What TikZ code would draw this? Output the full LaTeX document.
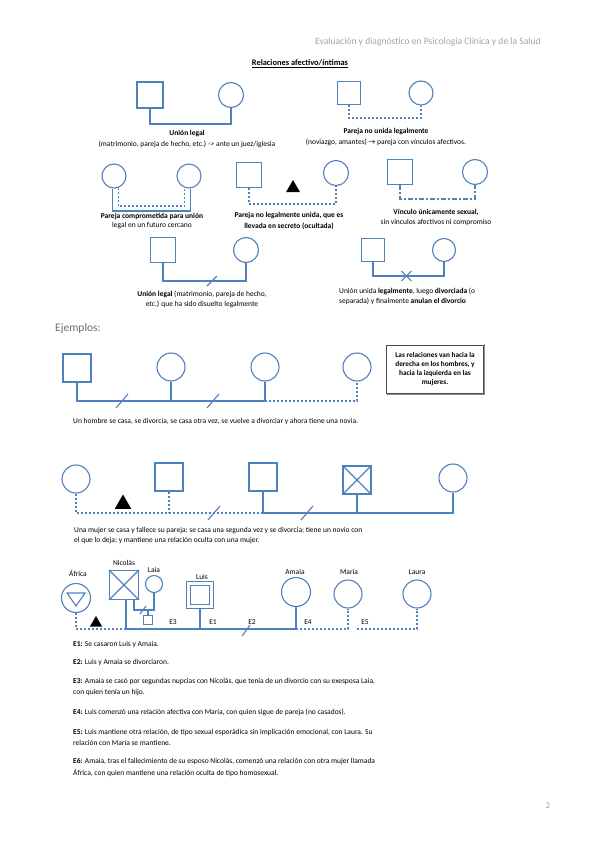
\documentclass[tikz,border=0pt]{standalone}
\usepackage{fontspec}
\setmainfont{Carlito}
\usetikzlibrary{shapes.geometric,calc}
\definecolor{relblue}{RGB}{79,129,189}
\definecolor{hdrgray}{RGB}{165,165,165}
\definecolor{ejgray}{RGB}{110,110,110}
\tikzset{
 rel/.style={draw=relblue, line width=1.1pt},
 reld/.style={rel, dash pattern=on 2pt off 2pt},
 reldd/.style={rel, dash pattern=on 5pt off 2pt on 2pt off 2pt},
 sq/.style={rectangle, draw=relblue, line width=1.1pt, inner sep=0pt, minimum size=#1},
 sq/.default=25pt,
 ci/.style={circle, draw=relblue, line width=1.1pt, inner sep=0pt, minimum size=#1},
 ci/.default=25pt,
 blacktri/.style={regular polygon, regular polygon sides=3, fill=black, inner sep=0pt, minimum size=#1},
 blacktri/.default=16pt,
 txt/.style={font=\fontsize{7.5}{9}\selectfont, inner sep=0pt},
 btxt/.style={font=\fontsize{7.5}{9}\selectfont\bfseries, inner sep=0pt},
 ltxt/.style={txt, anchor=west},
 lbtxt/.style={btxt, anchor=west},
 nm/.style={font=\fontsize{7.5}{9}\selectfont, inner sep=0pt},
}
\begin{document}
\begin{tikzpicture}[x=1pt,y=-1pt]
\useasboundingbox (0,0) rectangle (599,848);
\fill[white] (0,0) rectangle (599,848);

% header
\node[font=\fontsize{9.6}{11}\selectfont, text=hdrgray, anchor=east, inner sep=0pt] (hdr) at (541,42) {Evaluación y diagnóstico en Psicología Clínica y de la Salud};
\node[font=\fontsize{8.4}{10}\selectfont\bfseries, inner sep=0pt] (title) at (300,64) {\underline{Relaciones afectivo/íntimas}};

% ---- row 1 left: union legal
\node[sq=26pt] (s1) at (150,95) {};
\node[ci=25pt] (c1) at (231,95) {};
\coordinate (l1) at (0,124);
\draw[rel] (s1.south) |- (c1.south |- l1) -- (c1.south);
\node[btxt] (t1a) at (187,134) {Unión legal};
\node[txt] (t1b) at (187,144) {(matrimonio, pareja de hecho, etc.) -> ante un juez/iglesia};

% ---- row 1 right: pareja no unida
\node[sq=23pt] (s2) at (349,93) {};
\node[ci=24pt] (c2) at (421,93) {};
\coordinate (l2) at (0,118);
\draw[reld] (s2.south) |- (c2.south |- l2) -- (c2.south);
\node[btxt] (t2a) at (386,132) {Pareja no unida legalmente};
\node[txt] (t2b) at (386,142) {(noviazgo, amantes) → pareja con vínculos afectivos.};

% ---- row 2 left: comprometida
\node[ci=24pt] (c3) at (114,176) {};
\node[ci=24pt] (c4) at (189,176) {};
\coordinate (l3) at (0,211);
\coordinate (l3b) at (0,206);
\draw[rel] (c3.265) |- (c4.275 |- l3) -- (c4.275);
\draw[reld] (c3.290) |- (c4.250 |- l3b) -- (c4.250);
\node[btxt] (t3a) at (152,216) {Pareja comprometida para unión};
\node[txt] (t3b) at (152,226) {legal en un futuro cercano};

% ---- row 2 middle: oculta
\node[sq=25pt] (s5) at (249,175) {};
\node[blacktri=16pt] (tr1) at (293,188) {};
\node[ci=25pt] (c6) at (336,173) {};
\coordinate (l5) at (0,204);
\draw[reld] (s5.south) |- (c6.south |- l5) -- (c6.south);
\node[btxt] (t5a) at (289,216) {Pareja no legalmente unida, que es};
\node[btxt] (t5b) at (289,226) {llevada en secreto (ocultada)};

% ---- row 2 right: sexual
\node[sq=25pt] (s7) at (400,172) {};
\node[ci=25pt] (c8) at (475,172) {};
\coordinate (l7) at (0,199);
\draw[reldd] (s7.south) |- (c8.south |- l7) -- (c8.south);
\node[btxt] (t7a) at (436,212) {Vínculo únicamente sexual,};
\node[txt] (t7b) at (436,222) {sin vínculos afectivos ni compromiso};

% ---- row 3 left: disuelto
\node[sq=25pt] (s9) at (163,250) {};
\node[ci=25pt] (c10) at (246,250) {};
\coordinate (l9) at (0,281);
\draw[rel] (s9.south) |- (c10.south |- l9) -- (c10.south);
\coordinate (sl9) at ($(s9.south |- l9)!0.59!(c10.south |- l9)$);
\draw[rel] ($(sl9)+(-5,5)$) -- ($(sl9)+(5,-5)$);
\node[txt] (t9a) at (202,294) {\textbf{Unión legal} (matrimonio, pareja de hecho,};
\node[txt] (t9b) at (202,304) {etc.) que ha sido disuelto legalmente};

% ---- row 3 right: anulan
\node[sq=23pt] (s11) at (373,250) {};
\node[ci=23pt] (c12) at (444,250) {};
\coordinate (l11) at (0,276);
\draw[rel] (s11.south) |- (c12.south |- l11) -- (c12.south);
\coordinate (x11) at ($(s11.south |- l11)!0.47!(c12.south |- l11)$);
\draw[rel] ($(x11)+(-5,-5)$) -- ($(x11)+(5,5)$) ($(x11)+(-5,5)$) -- ($(x11)+(5,-5)$);
\node[ltxt] (t11a) at (339,291) {Unión unida \textbf{legalmente}, luego \textbf{divorciada} (o};
\node[ltxt] (t11b) at (339,301) {separada) y finalmente \textbf{anulan el divorcio}};

% ---- Ejemplos
\node[font=\fontsize{11.5}{13}\selectfont, text=ejgray, anchor=west, inner sep=0pt] (ej) at (55,328) {Ejemplos:};

% example 1
\node[sq=28pt] (e1s) at (77,368) {};
\node[ci=28pt] (e1c1) at (171,367) {};
\node[ci=28pt] (e1c2) at (265,367) {};
\node[ci=28pt] (e1c3) at (357,367) {};
\coordinate (le1) at (0,401);
\draw[rel] (e1s.south) |- (e1c2.south |- le1) -- (e1c2.south);
\draw[rel] (e1c1.south) -- (e1c1.south |- le1);
\draw[reld] (e1c2.south |- le1) -| (e1c3.south);
\draw[rel] (116,408) -- (128,394);
\draw[rel] (207,408) -- (219,394);
\node[draw=black!70, line width=0.6pt, fill=white, minimum width=97pt, minimum height=48pt, inner sep=0pt] (box) at (435,369) {};
\draw[black!45, line width=1.2pt] ([xshift=1pt,yshift=-1pt]box.south west) -- ([xshift=1pt,yshift=-1pt]box.south east) -- ([xshift=1pt,yshift=1pt]box.north east);
\node[font=\fontsize{7.3}{9.2}\selectfont\bfseries, align=center, inner sep=0pt] (boxt) at (box.center) {Las relaciones van hacia la\\derecha en los hombres, y\\hacia la izquierda en las\\mujeres.};
\node[ltxt] (cap1) at (73,421) {Un hombre se casa, se divorcia, se casa otra vez, se vuelve a divorciar y ahora tiene una novia.};

% example 2
\node[ci=28pt] (e2c1) at (76,479) {};
\node[sq=28pt] (e2s1) at (169,477) {};
\node[blacktri=19pt] (tr2) at (123,504) {};
\node[sq=28pt] (e2s2) at (263,477) {};
\node[sq=28pt] (e2x) at (357,480) {};
\draw[rel] (e2x.north west) -- (e2x.south east) (e2x.north east) -- (e2x.south west);
\node[ci=28pt] (e2c2) at (453,478) {};
\coordinate (le2) at (0,513);
\draw[reld] (e2c1.south) |- (e2s2.south |- le2);
\draw[reld] (e2s1.south) -- (e2s1.south |- le2);
\draw[rel] (e2s2.south) |- (e2c2.south |- le2) -- (e2c2.south);
\draw[rel] (e2x.south) -- (e2x.south |- le2);
\draw[rel] (208,520) -- (220,506);
\draw[rel] (301,520) -- (313,506);
\node[ltxt] (cap2a) at (74,531) {Una mujer se casa y fallece su pareja; se casa una segunda vez y se divorcia; tiene un novio con};
\node[ltxt] (cap2b) at (74,541) {el que lo deja; y mantiene una relación oculta con una mujer.};

% example 3
\node[ci=29pt] (afr) at (76,598) {};
\draw[rel] ($(afr.center)+(-9,-5)$) -- ($(afr.center)+(9,-5)$) -- ($(afr.center)+(0,8)$) -- cycle;
\node[sq=29pt] (nic) at (124,585) {};
\draw[rel] (nic.north west) -- (nic.south east) (nic.north east) -- (nic.south west);
\node[ci=17pt] (laia) at (154,584) {};
\node[sq=9pt] (hijo) at (148,620) {};
\node[sq=27pt] (luis) at (200,595) {};
\node[sq=19pt] (luisin) at (200,595) {};
\node[ci=29pt] (ama) at (296,592) {};
\node[ci=28pt] (mar) at (348,594) {};
\node[ci=28pt] (lau) at (417,594) {};
\node[blacktri=14pt] (tr3) at (96,623) {};
\node[nm] (nafr) at (78,573) {África};
\node[nm] (nnic) at (124,563) {Nicolás};
\node[nm] (nlai) at (154,570) {Laia};
\node[nm] (nlui) at (202,577) {Luis};
\node[nm] (nama) at (295,572) {Amaia};
\node[nm] (nmar) at (349,572) {María};
\node[nm] (nlau) at (417,572) {Laura};
\coordinate (le3) at (0,629);
\coordinate (le3s) at (0,610);
\coordinate (nicl) at (126,599);
\coordinate (nicr) at (134,599);
\draw[reld] (afr.south) |- (nicl |- le3);
\draw[rel] (nicl) |- (ama.south |- le3) -- (ama.south);
\draw[rel] (luis.south) -- (luis.south |- le3);
\draw[rel] (nicr) |- (laia.south |- le3s) -- (laia.south);
\draw[rel] (hijo.north) -- (hijo.north |- le3s);
\draw[rel] (140,614) -- (146,606);
\draw[reld] (ama.south |- le3) -| (mar.south);
\coordinate (e5s) at (357,629);
\draw[reld] (e5s) -| (lau.south);
\draw[rel] (242,636) -- (250,625);
\node[nm] (E3) at (173,622) {E3};
\node[nm] (E1) at (213,622) {E1};
\node[nm] (E2) at (252,622) {E2};
\node[nm] (E4) at (308,622) {E4};
\node[nm] (E5) at (365,622) {E5};

% legend text
\node[ltxt] (d1) at (73,645) {\textbf{E1:} Se casaron Luis y Amaia.};
\node[ltxt] (d2) at (73,662) {\textbf{E2:} Luis y Amaia se divorciaron.};
\node[ltxt] (d3a) at (73,682) {\textbf{E3:} Amaia se casó por segundas nupcias con Nicolás, que tenía de un divorcio con su exesposa Laia,};
\node[ltxt] (d3b) at (73,693) {con quien tenía un hijo.};
\node[ltxt] (d4) at (73,712) {\textbf{E4:} Luis comenzó una relación afectiva con María, con quien sigue de pareja (no casados).};
\node[ltxt] (d5a) at (73,732) {\textbf{E5:} Luis mantiene otra relación, de tipo sexual esporádica sin implicación emocional, con Laura. Su};
\node[ltxt] (d5b) at (73,743) {relación con María se mantiene.};
\node[ltxt] (d6a) at (73,762) {\textbf{E6:} Amaia, tras el fallecimiento de su esposo Nicolás, comenzó una relación con otra mujer llamada};
\node[ltxt] (d6b) at (73,773) {África, con quien mantiene una relación oculta de tipo homosexual.};

\node[font=\fontsize{9}{10}\selectfont, text=hdrgray, inner sep=0pt] (pg) at (548,806) {2};
\end{tikzpicture}
\end{document}
